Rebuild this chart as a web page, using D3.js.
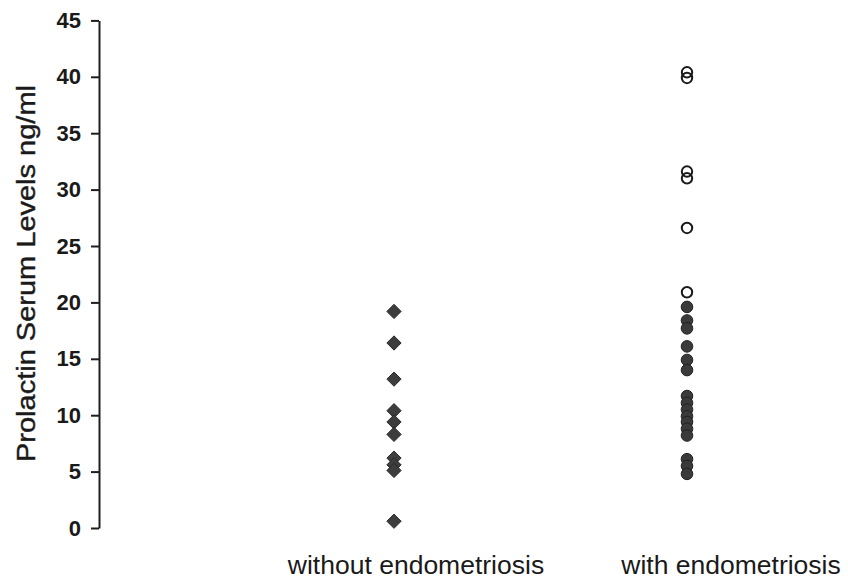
<!DOCTYPE html>
<html>
<head>
<meta charset="utf-8">
<script src="https://cdn.jsdelivr.net/npm/d3@7"></script>
<style>
  body { margin: 0; background: #fff; }
  svg { display: block; }
</style>
</head>
<body>
<div id="chart"></div>
<script>
// data
const categories = ["without endometriosis", "with endometriosis"]
const withoutValues = [19.2, 16.4, 13.2, 10.4, 9.4, 8.3, 6.2, 5.6, 5.1, 0.6]
const withFilled = [19.6, 18.4, 17.7, 16.1, 14.9, 14.0, 11.7, 11.1, 10.5, 9.9, 9.4, 8.8, 8.2, 6.1, 5.5, 4.8]
const withOpen = [40.4, 39.9, 31.6, 31.0, 26.6, 20.9]
const yTicks = [0, 5, 10, 15, 20, 25, 30, 35, 40, 45]
const yTitle = "Prolactin Serum Levels ng/ml"

const width = 848, height = 588

const svg = d3.select("#chart").append("svg")
    .attr("width", width)
    .attr("height", height)

// scales
const y = d3.scaleLinear().domain([0, 45]).range([528, 20.4])
const x = d3.scalePoint().domain(categories).range([394, 687])
const xLabel = d3.scalePoint().domain(categories).range([416, 731])

// y axis
const yAxis = svg.append("g")
    .attr("transform", "translate(99,0)")
    .call(d3.axisLeft(y).tickValues(yTicks).tickSize(8).tickSizeOuter(0).tickPadding(10))

yAxis.select(".domain").attr("stroke", "#1e1e1e").attr("stroke-width", 2)
yAxis.selectAll(".tick line").attr("stroke", "#1e1e1e").attr("stroke-width", 2)
yAxis.selectAll(".tick text")
    .attr("fill", "#1a1a1a")
    .style("font-family", "'Liberation Sans', Arial, sans-serif")
    .style("font-size", "22px")
    .style("font-weight", "bold")

// y title
svg.append("text")
    .attr("transform", `translate(35,${(85 + 462) / 2}) rotate(-90)`)
    .attr("text-anchor", "middle")
    .attr("textLength", 377)
    .attr("lengthAdjust", "spacingAndGlyphs")
    .attr("fill", "#1a1a1a")
    .attr("stroke", "#1a1a1a")
    .attr("stroke-width", 0.4)
    .style("font-family", "'Liberation Sans', Arial, sans-serif")
    .style("font-size", "25px")
    .text(yTitle)

// category labels
svg.selectAll(".cat-label")
    .data(categories)
    .enter().append("text")
    .attr("class", "cat-label")
    .attr("x", d => xLabel(d))
    .attr("y", 574)
    .attr("text-anchor", "middle")
    .attr("fill", "#1a1a1a")
    .style("font-family", "'Liberation Sans', Arial, sans-serif")
    .style("font-size", "26.5px")
    .text(d => d)

// diamonds (without endometriosis)
const diamondType = d3.symbolDiamond2 || d3.symbolSquare
const diamond = d3.symbol().type(diamondType).size(130)

svg.selectAll(".diamond")
    .data(withoutValues)
    .enter().append("path")
    .attr("class", "diamond")
    .attr("d", diamond)
    .attr("transform", d => `translate(${x(categories[0])},${y(d)})`)
    .attr("fill", "#3d3d3d")
    .attr("stroke", "#2a2a2a")
    .attr("stroke-width", 1)

// filled circles (with endometriosis)
svg.selectAll(".dot-filled")
    .data(withFilled)
    .enter().append("circle")
    .attr("class", "dot-filled")
    .attr("cx", x(categories[1]))
    .attr("cy", d => y(d))
    .attr("r", 5.8)
    .attr("fill", "#3a3a3a")
    .attr("stroke", "#222")
    .attr("stroke-width", 1)

// open circles
svg.selectAll(".dot-open")
    .data(withOpen)
    .enter().append("circle")
    .attr("class", "dot-open")
    .attr("cx", x(categories[1]))
    .attr("cy", d => y(d))
    .attr("r", 5.2)
    .attr("fill", "none")
    .attr("stroke", "#1a1a1a")
    .attr("stroke-width", 2)
</script>
</body>
</html>
